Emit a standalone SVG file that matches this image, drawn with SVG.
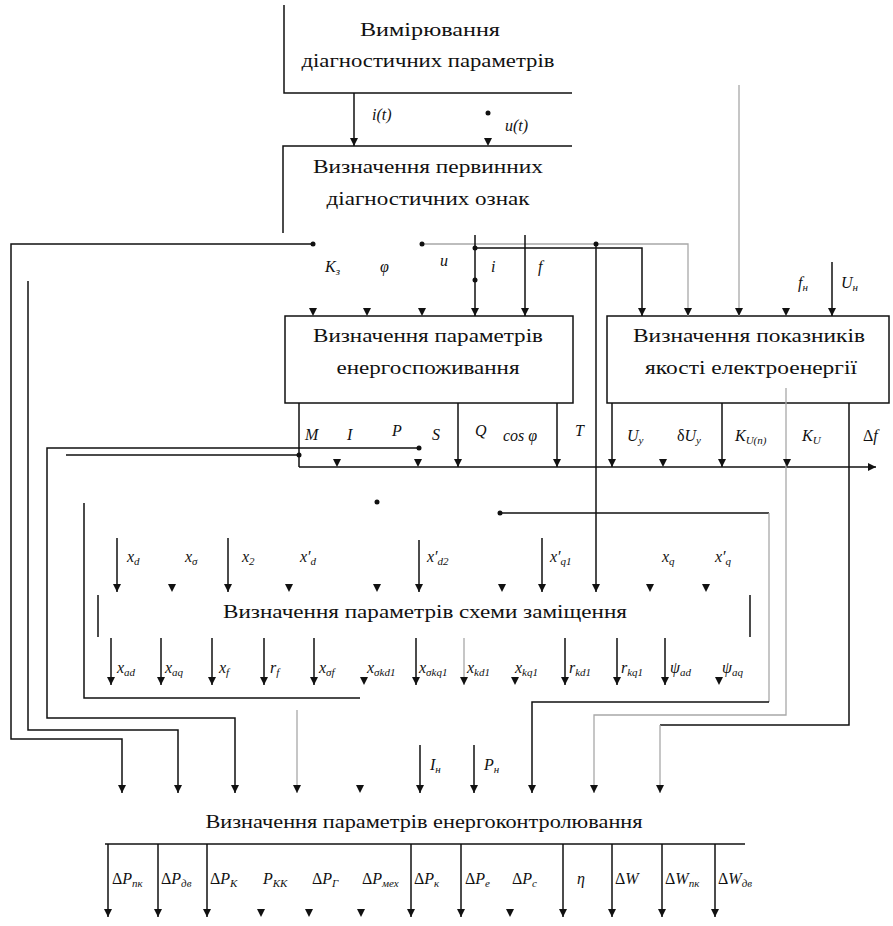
<svg xmlns="http://www.w3.org/2000/svg" xmlns:xlink="http://www.w3.org/1999/xlink" width="893" height="926" viewBox="0 0 893 926">
<defs>
<style>
.ln{fill:none;stroke:#111;stroke-width:1.5}
.gr{fill:none;stroke:#a8a8a8;stroke-width:1.3}
.box{fill:#fff;stroke:#111;stroke-width:1.5}
.t{font-family:"Liberation Serif","DejaVu Serif","Times New Roman",serif;font-size:18px;fill:#111;text-anchor:middle}
.m{font-family:"Liberation Serif","DejaVu Serif","Times New Roman",serif;font-size:16px;font-style:italic;fill:#111}
.s{font-size:11px}
.dot{fill:#111}
</style>
<marker id="arr" markerUnits="userSpaceOnUse" markerWidth="10" markerHeight="10" refX="8" refY="4.5" orient="auto">
<path d="M0,0.5 L8,4.5 L0,8.5 z" fill="#111"/>
</marker>
<path id="ah" d="M-4,-8 L4,-8 L0,0 z" fill="#111"/>
</defs>
<rect width="893" height="926" fill="#fff"/>

<g id="node-measure">
<path class="ln" d="M284,5 V93 H572"/>
<text class="t" x="430" y="36" textLength="140" lengthAdjust="spacingAndGlyphs">Вимірювання</text>
<text class="t" x="428" y="67" textLength="253" lengthAdjust="spacingAndGlyphs">діагностичних параметрів</text>
</g>

<g id="node-primary">
<path class="ln" d="M572,146 H283 V233"/>
<text class="t" x="428" y="173" textLength="230" lengthAdjust="spacingAndGlyphs">Визначення первинних</text>
<text class="t" x="428" y="205" textLength="203" lengthAdjust="spacingAndGlyphs">діагностичних ознак</text>
</g>

<g id="node-consumption">
<rect class="box" x="285" y="316" width="288" height="87"/>
<text class="t" x="428" y="342" textLength="230" lengthAdjust="spacingAndGlyphs">Визначення параметрів</text>
<text class="t" x="428" y="374" textLength="183" lengthAdjust="spacingAndGlyphs">енергоспоживання</text>
</g>

<g id="node-quality">
<rect class="box" x="607" y="316" width="282" height="87"/>
<text class="t" x="749" y="342" textLength="232" lengthAdjust="spacingAndGlyphs">Визначення показників</text>
<text class="t" x="751" y="374" textLength="212" lengthAdjust="spacingAndGlyphs">якості електроенергії</text>
</g>

<g id="node-scheme">
<path class="ln" d="M98,595 V637 M750,595 V637"/>
<text class="t" x="425" y="618" textLength="404" lengthAdjust="spacingAndGlyphs">Визначення параметрів схеми заміщення</text>
</g>

<g id="node-control">
<path class="ln" d="M105,844 H745"/>
<text class="t" x="424" y="828" textLength="437" lengthAdjust="spacingAndGlyphs">Визначення параметрів енергоконтролювання</text>
</g>

<g id="connectors">
<path class="ln" d="M354,93 V146" marker-end="url(#arr)"/>
<circle class="dot" cx="488" cy="113" r="2.5"/>
<use xlink:href="#ah" x="488" y="146"/>

<path class="ln" d="M313,244 H11 V739 H122 V793" marker-end="url(#arr)"/>
<circle class="dot" cx="313" cy="244" r="2.5"/>
<path class="gr" d="M422,244 H688 V316" marker-end="url(#arr)"/>
<circle class="dot" cx="422" cy="244" r="2.5"/>
<path class="ln" d="M475,248 H642 V316" marker-end="url(#arr)"/>
<circle class="dot" cx="475" cy="248" r="2.5"/>
<path class="ln" d="M596,244 V592" marker-end="url(#arr)"/>
<circle class="dot" cx="596" cy="244" r="2.5"/>
<path class="ln" d="M475,235 V316" marker-end="url(#arr)"/>
<circle class="dot" cx="475" cy="280" r="2.5"/>
<path class="ln" d="M525,235 V316" marker-end="url(#arr)"/>
<use xlink:href="#ah" x="313" y="316"/>
<use xlink:href="#ah" x="367" y="316"/>
<use xlink:href="#ah" x="422" y="316"/>
<path class="gr" d="M739,85 V316" marker-end="url(#arr)"/>
<use xlink:href="#ah" x="786" y="316"/>
<path class="ln" d="M832,262 V316" marker-end="url(#arr)"/>

<path class="ln" d="M299,403 V467 M66,455 H299"/>
<circle class="dot" cx="299" cy="455" r="2.5"/>
<path class="ln" d="M299,467 H876" marker-end="url(#arr)"/>
<path class="ln" d="M458,403 V467" marker-end="url(#arr)"/>
<path class="ln" d="M557,403 V467" marker-end="url(#arr)"/>
<use xlink:href="#ah" x="337" y="467"/>
<use xlink:href="#ah" x="418" y="467"/>
<path class="ln" d="M419,448 H47 V718 H235 V793" marker-end="url(#arr)"/>
<circle class="dot" cx="419" cy="448" r="2.5"/>
<path class="ln" d="M28,281 V730 H178 V793" marker-end="url(#arr)"/>

<path class="ln" d="M612,403 V467" marker-end="url(#arr)"/>
<use xlink:href="#ah" x="663" y="467"/>
<path class="ln" d="M722,403 V467" marker-end="url(#arr)"/>
<path class="gr" d="M786,388 V715 H594 V793" marker-end="url(#arr)"/>
<use xlink:href="#ah" x="787" y="467"/>
<path class="ln" d="M849,403 V725 H660"/>
<path class="gr" d="M660,725 V793" marker-end="url(#arr)"/>

<circle class="dot" cx="377" cy="502" r="2.5"/>
<path class="ln" d="M84,503 V698 H360"/>
<path class="ln" d="M500,513 H769"/>
<circle class="dot" cx="500" cy="513" r="2.5"/>
<path class="gr" d="M769,513 V702"/>
<path class="ln" d="M769,702 H532 V793" marker-end="url(#arr)"/>
<path class="gr" d="M297,710 V793" marker-end="url(#arr)"/>
<use xlink:href="#ah" x="360" y="793"/>
<path class="ln" d="M420,745 V793" marker-end="url(#arr)"/>
<path class="ln" d="M474,745 V793" marker-end="url(#arr)"/>

<path class="ln" d="M117,538 V592" marker-end="url(#arr)"/>
<use xlink:href="#ah" x="172" y="592"/>
<path class="ln" d="M228,538 V592" marker-end="url(#arr)"/>
<use xlink:href="#ah" x="289" y="592"/>
<use xlink:href="#ah" x="377" y="592"/>
<path class="ln" d="M419,540 V592" marker-end="url(#arr)"/>
<use xlink:href="#ah" x="502" y="592"/>
<path class="ln" d="M542,538 V592" marker-end="url(#arr)"/>
<use xlink:href="#ah" x="650" y="592"/>
<use xlink:href="#ah" x="706" y="592"/>

<path class="ln" d="M111,638 V685" marker-end="url(#arr)"/>
<path class="ln" d="M161,638 V685" marker-end="url(#arr)"/>
<path class="ln" d="M212,638 V685" marker-end="url(#arr)"/>
<path class="ln" d="M264,638 V685" marker-end="url(#arr)"/>
<path class="ln" d="M314,638 V685" marker-end="url(#arr)"/>
<use xlink:href="#ah" x="364" y="685"/>
<path class="ln" d="M416,638 V685" marker-end="url(#arr)"/>
<path class="gr" d="M464,638 V685" marker-end="url(#arr)"/>
<use xlink:href="#ah" x="515" y="685"/>
<path class="ln" d="M565,638 V685" marker-end="url(#arr)"/>
<path class="ln" d="M617,638 V685" marker-end="url(#arr)"/>
<path class="ln" d="M665,638 V685" marker-end="url(#arr)"/>
<use xlink:href="#ah" x="719" y="685"/>

<path class="ln" d="M108,844 V917" marker-end="url(#arr)"/>
<path class="ln" d="M158,844 V917" marker-end="url(#arr)"/>
<path class="ln" d="M207,844 V917" marker-end="url(#arr)"/>
<use xlink:href="#ah" x="261" y="917"/>
<use xlink:href="#ah" x="309" y="917"/>
<use xlink:href="#ah" x="361" y="917"/>
<path class="ln" d="M411,844 V917" marker-end="url(#arr)"/>
<path class="ln" d="M461,844 V917" marker-end="url(#arr)"/>
<use xlink:href="#ah" x="510" y="917"/>
<path class="ln" d="M563,844 V917" marker-end="url(#arr)"/>
<path class="ln" d="M612,844 V917" marker-end="url(#arr)"/>
<path class="ln" d="M662,844 V917" marker-end="url(#arr)"/>
<path class="ln" d="M715,844 V917" marker-end="url(#arr)"/>
</g>

<g id="labels">
<text class="m" x="372" y="120">i(t)</text>
<text class="m" x="505" y="131">u(t)</text>
<text class="m" x="325" y="272">K<tspan class="s" dy="3">з</tspan></text>
<text class="m" x="380" y="272" font-style="normal">φ</text>
<text class="m" x="440" y="266">u</text>
<text class="m" x="491" y="272">i</text>
<text class="m" x="538" y="272">f</text>
<text class="m" x="798" y="288">f<tspan class="s" dy="3">н</tspan></text>
<text class="m" x="841" y="288">U<tspan class="s" dy="3">н</tspan></text>

<text class="m" x="305" y="440">M</text>
<text class="m" x="347" y="440">I</text>
<text class="m" x="392" y="436">P</text>
<text class="m" x="432" y="440">S</text>
<text class="m" x="475" y="436">Q</text>
<text class="m" x="503" y="441" font-style="normal">cos φ</text>
<text class="m" x="575" y="436">T</text>
<text class="m" x="627" y="441">U<tspan class="s" dy="3">у</tspan></text>
<text class="m" x="677" y="441"><tspan font-style="normal">δ</tspan>U<tspan class="s" dy="3">у</tspan></text>
<text class="m" x="735" y="441">K<tspan class="s" dy="3">U(n)</tspan></text>
<text class="m" x="802" y="441">K<tspan class="s" dy="3">U</tspan></text>
<text class="m" x="863" y="441"><tspan font-style="normal">Δ</tspan>f</text>

<text class="m" x="127" y="562">x<tspan class="s" dy="3">d</tspan></text>
<text class="m" x="185" y="562">x<tspan class="s" dy="3">σ</tspan></text>
<text class="m" x="242" y="562">x<tspan class="s" dy="3">2</tspan></text>
<text class="m" x="300" y="562">x′<tspan class="s" dy="3">d</tspan></text>
<text class="m" x="427" y="562">x′<tspan class="s" dy="3">d2</tspan></text>
<text class="m" x="550" y="562">x′<tspan class="s" dy="3">q1</tspan></text>
<text class="m" x="662" y="562">x<tspan class="s" dy="3">q</tspan></text>
<text class="m" x="715" y="562">x′<tspan class="s" dy="3">q</tspan></text>

<text class="m" x="117" y="673">x<tspan class="s" dy="3">ad</tspan></text>
<text class="m" x="165" y="673">x<tspan class="s" dy="3">aq</tspan></text>
<text class="m" x="219" y="673">x<tspan class="s" dy="3">f</tspan></text>
<text class="m" x="270" y="673">r<tspan class="s" dy="3">f</tspan></text>
<text class="m" x="319" y="673">x<tspan class="s" dy="3">σf</tspan></text>
<text class="m" x="367" y="673">x<tspan class="s" dy="3">σkd1</tspan></text>
<text class="m" x="419" y="673">x<tspan class="s" dy="3">σkq1</tspan></text>
<text class="m" x="467" y="673">x<tspan class="s" dy="3">kd1</tspan></text>
<text class="m" x="515" y="673">x<tspan class="s" dy="3">kq1</tspan></text>
<text class="m" x="569" y="673">r<tspan class="s" dy="3">kd1</tspan></text>
<text class="m" x="621" y="673">r<tspan class="s" dy="3">kq1</tspan></text>
<text class="m" x="670" y="673" font-style="normal">ψ<tspan class="s" dy="3" font-style="italic">ad</tspan></text>
<text class="m" x="722" y="673" font-style="normal">ψ<tspan class="s" dy="3" font-style="italic">aq</tspan></text>

<text class="m" x="430" y="770">I<tspan class="s" dy="3">н</tspan></text>
<text class="m" x="484" y="770">P<tspan class="s" dy="3">н</tspan></text>

<text class="m" x="112" y="884"><tspan font-style="normal">Δ</tspan>P<tspan class="s" dy="3">пк</tspan></text>
<text class="m" x="161" y="884"><tspan font-style="normal">Δ</tspan>P<tspan class="s" dy="3">дв</tspan></text>
<text class="m" x="210" y="884"><tspan font-style="normal">Δ</tspan>P<tspan class="s" dy="3">К</tspan></text>
<text class="m" x="263" y="884">P<tspan class="s" dy="3">КК</tspan></text>
<text class="m" x="312" y="884"><tspan font-style="normal">Δ</tspan>P<tspan class="s" dy="3">Г</tspan></text>
<text class="m" x="362" y="884"><tspan font-style="normal">Δ</tspan>P<tspan class="s" dy="3">мех</tspan></text>
<text class="m" x="414" y="884"><tspan font-style="normal">Δ</tspan>P<tspan class="s" dy="3">к</tspan></text>
<text class="m" x="465" y="884"><tspan font-style="normal">Δ</tspan>P<tspan class="s" dy="3">е</tspan></text>
<text class="m" x="512" y="884"><tspan font-style="normal">Δ</tspan>P<tspan class="s" dy="3">с</tspan></text>
<text class="m" x="577" y="884">η</text>
<text class="m" x="615" y="884"><tspan font-style="normal">Δ</tspan>W</text>
<text class="m" x="665" y="884"><tspan font-style="normal">Δ</tspan>W<tspan class="s" dy="3">пк</tspan></text>
<text class="m" x="718" y="884"><tspan font-style="normal">Δ</tspan>W<tspan class="s" dy="3">дв</tspan></text>
</g>
</svg>
